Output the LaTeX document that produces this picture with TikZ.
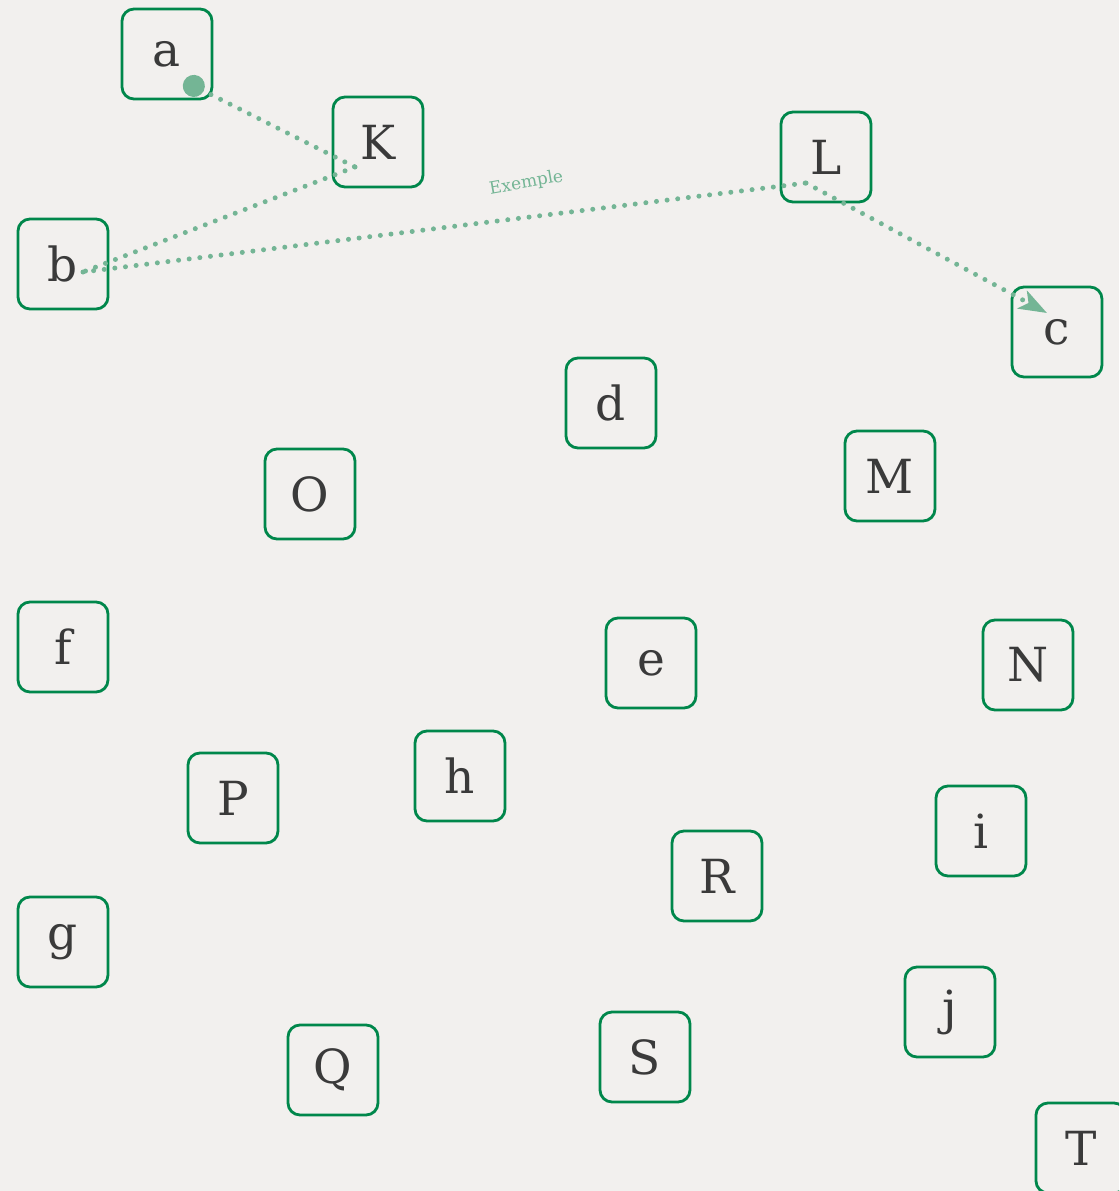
\documentclass[tikz,border=0pt]{standalone}
\usepackage{fontspec}
\setmainfont{DejaVu Serif}
\usepackage{xcolor}
\usetikzlibrary{arrows.meta}
\definecolor{boxgreen}{RGB}{0,135,75}
\definecolor{linkgreen}{RGB}{116,181,149}
\definecolor{paper}{RGB}{242,240,238}
\definecolor{ink}{RGB}{58,58,58}

\begin{document}
\begin{tikzpicture}[
  x=1pt, y=-1pt,
  letter/.style={draw=boxgreen, line width=2.8pt, rounded corners=12pt, minimum size=90pt, inner sep=0pt, text=ink, font=\fontsize{47}{56}\selectfont},
  link/.style={draw=linkgreen, line width=5pt, line cap=round, dash pattern=on 0pt off 10.7pt},
  tag/.style={text=linkgreen, font=\fontsize{17}{19}\selectfont}
]
\fill[paper] (0,0) rectangle (1119,1191);
\useasboundingbox (0,0) rectangle (1119,1191);
\clip (0,0) rectangle (1119,1191);

\node[letter] (a) at (167,54) {a};
\node[letter] (K) at (378,142) {K};
\node[letter] (L) at (826,157) {L};
\node[letter] (b) at (63,264) {b};
\node[letter] (c) at (1057,332) {c};
\node[letter] (d) at (611,403) {d};
\node[letter] (M) at (890,476) {M};
\node[letter] (O) at (310,494) {O};
\node[letter] (f) at (63,647) {f};
\node[letter] (e) at (651,663) {e};
\node[letter] (N) at (1028,665) {N};
\node[letter] (h) at (460,776) {h};
\node[letter] (P) at (233,798) {P};
\node[letter] (i) at (981,831) {i};
\node[letter] (R) at (717,876) {R};
\node[letter] (g) at (63,942) {g};
\node[letter] (j) at (950,1012) {j};
\node[letter] (Q) at (333,1070) {Q};
\node[letter] (S) at (645,1057) {S};
\node[letter] (T) at (1081,1148) {T};

% link ends sit inside the boxes
\coordinate (a-out) at ([shift={(17,27)}]a.center);
\coordinate (K-in) at ([shift={(-23,25)}]K.center);
\coordinate (b-in) at ([shift={(20,8)}]b.center);
\coordinate (L-in) at ([shift={(-20,26)}]L.center);
\coordinate (c-in) at ([shift={(-10,-19)}]c.center);

\draw[link, {Circle[length=22pt]}-] (a-out) -- (K-in);
\draw[link] (K-in) -- (b-in);
\draw[link] (b-in) -- node[tag, pos=0.62, sloped, above=20pt, rotate=3] {Exemple} (L-in);
\draw[link, -{Stealth[length=28pt, width=20pt, inset=7pt]}] (L-in) -- (c-in);
\end{tikzpicture}
\end{document}
